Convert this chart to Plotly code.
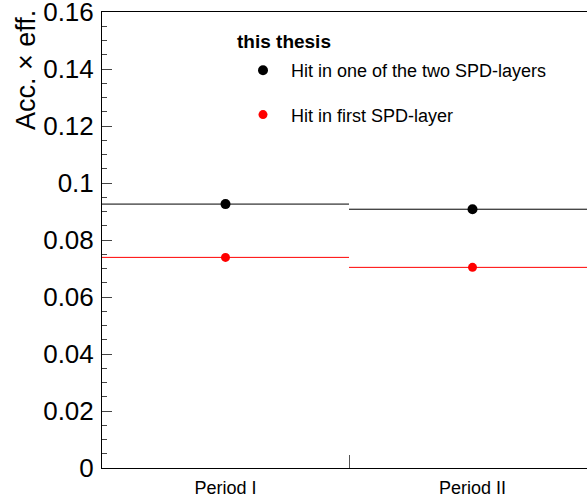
import plotly.graph_objects as go

# Acceptance x efficiency per data-taking period
periods = ["Period I", "Period II"]
bin_centers = [0.5, 1.5]
bin_half_width = [0.5, 0.5]
acc_eff_any_layer = [0.0926, 0.0908]
acc_eff_first_layer = [0.0739, 0.0704]

y_ticks = [0, 0.02, 0.04, 0.06, 0.08, 0.1, 0.12, 0.14, 0.16]
y_tick_text = ["0", "0.02", "0.04", "0.06", "0.08", "0.1", "0.12", "0.14", "0.16"]

font = "Liberation Sans, Arial, sans-serif"

# plot-area geometry in pixels
W, H = 587, 501
L, T, B = 102, 12, 33
PW, PH = W - L, H - T - B


def px_x(px):
    return (px - L) / PW


def px_y(py):
    return (H - B - py) / PH


fig = go.Figure()

fig.add_trace(go.Scatter(
    x=bin_centers, y=acc_eff_any_layer, mode="markers",
    name="Hit in one of the two SPD-layers",
    legendgroup="a",
    marker=dict(color="black", size=10),
    error_x=dict(type="data", array=bin_half_width, width=0, thickness=1, color="black"),
))
fig.add_trace(go.Scatter(
    x=bin_centers, y=acc_eff_first_layer, mode="markers",
    name="Hit in first SPD-layer",
    legendgroup="b",
    marker=dict(color="#ff0000", size=9),
    error_x=dict(type="data", array=bin_half_width, width=0, thickness=1, color="#ff0000"),
))

fig.update_layout(
    width=W, height=H,
    margin=dict(l=L, r=0, t=T, b=B, autoexpand=False),
    paper_bgcolor="white", plot_bgcolor="white",
    font=dict(family=font, color="black"),
    showlegend=True,
    legend=dict(
        x=px_x(235), y=px_y(52), xanchor="left", yanchor="top",
        font=dict(size=18, family=font),
        tracegroupgap=18,
        bgcolor="rgba(0,0,0,0)",
        itemwidth=46,
    ),
    xaxis=dict(
        range=[0, PW / 247],
        automargin=False,
        tickmode="array", tickvals=bin_centers, ticktext=periods,
        ticks="", showgrid=False, zeroline=False,
        showline=True, linecolor="black", linewidth=1, mirror=True,
        tickfont=dict(size=18, family=font),
        ticklabelstandoff=3,
        minor=dict(tickmode="array", tickvals=[1.0], ticks="inside",
                   ticklen=13, tickcolor="#555", tickwidth=1, showgrid=False),
    ),
    yaxis=dict(
        range=[0, 0.16],
        automargin=False,
        tickmode="array", tickvals=y_ticks, ticktext=y_tick_text,
        ticks="inside", ticklen=10, tickcolor="#444", tickwidth=1,
        showgrid=False, zeroline=False,
        showline=True, linecolor="black", linewidth=1, mirror=False,
        tickfont=dict(size=26, family=font),
        ticklabelstandoff=2,
        ticklabeloverflow="allow",
        minor=dict(dtick=0.005, ticks="inside", ticklen=5, tickcolor="#444",
                   tickwidth=1, showgrid=False),
    ),
    annotations=[
        dict(
            text="Acc. \u00d7 eff.", textangle=-90,
            xref="paper", yref="paper",
            x=px_x(26), y=px_y(8),
            xanchor="center", yanchor="top",
            showarrow=False, font=dict(size=27, family=font),
        ),
        dict(
            text="<b>this thesis</b>",
            xref="paper", yref="paper",
            x=px_x(235), y=px_y(42),
            xanchor="left", yanchor="middle",
            showarrow=False, font=dict(size=19, family=font),
        ),
    ],
)

fig.write_html("out.html")
